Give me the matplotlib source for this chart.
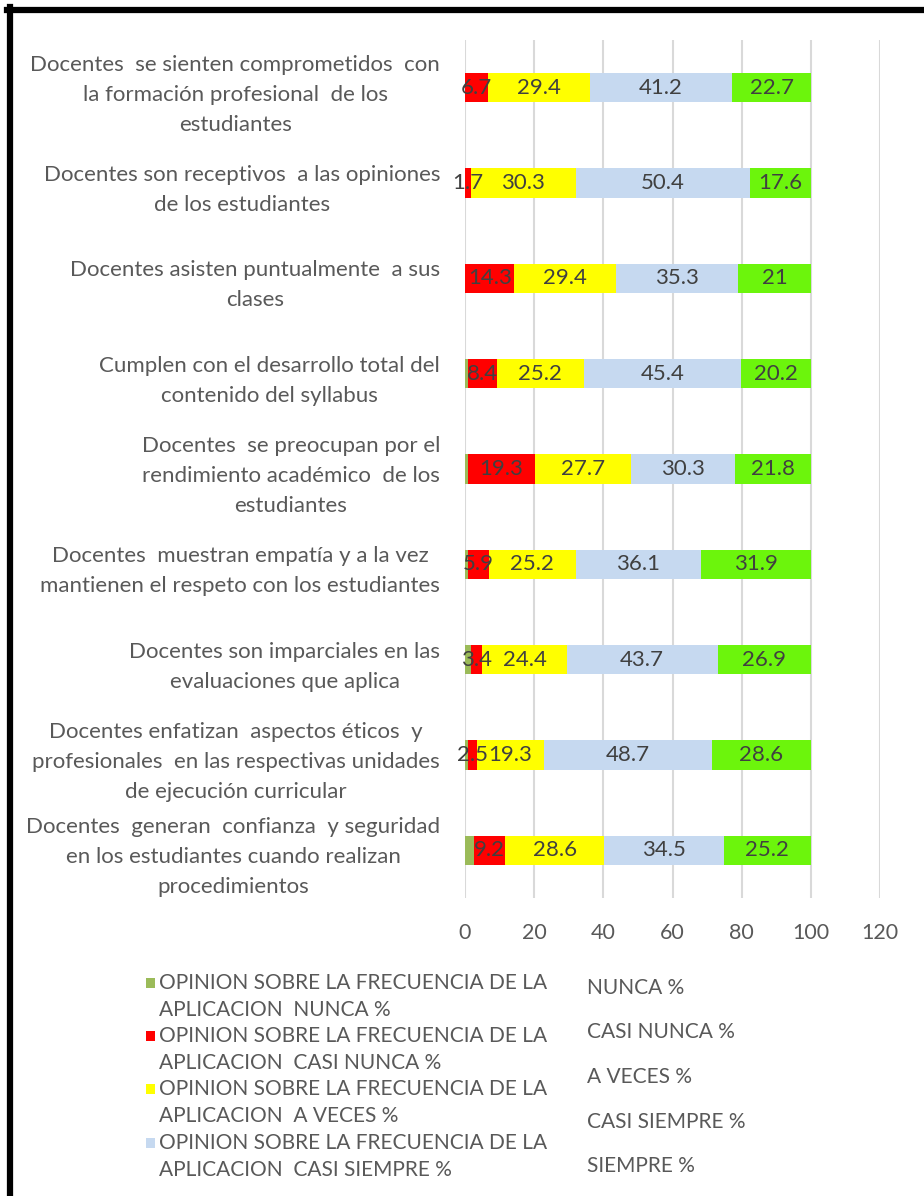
import matplotlib
matplotlib.use("Agg")
import matplotlib.pyplot as plt
from matplotlib.lines import Line2D
from matplotlib.patches import Rectangle
import numpy as np

plt.rcParams['font.family'] = ['Lato', 'DejaVu Sans']

categories = [
    "Docentes  se sienten comprometidos  con\nla formación profesional  de los\nestudiantes",
    "Docentes son receptivos  a las opiniones\nde los estudiantes",
    "Docentes asisten puntualmente  a sus\nclases",
    "Cumplen con el desarrollo total del\ncontenido del syllabus",
    "Docentes  se preocupan por el\nrendimiento académico  de los\nestudiantes",
    "Docentes  muestran empatía y a la vez\nmantienen el respeto con los estudiantes",
    "Docentes son imparciales en las\nevaluaciones que aplica",
    "Docentes enfatizan  aspectos éticos  y\nprofesionales  en las respectivas unidades\nde ejecución curricular",
    "Docentes  generan  confianza  y seguridad\nen los estudiantes cuando realizan\nprocedimientos",
]

nunca        = [0,    0,    0,    0.8,  0.9,  0.9,  1.6,  0.9,  2.5]
casi_nunca   = [6.7,  1.7,  14.3, 8.4,  19.3, 5.9,  3.4,  2.5,  9.2]
a_veces      = [29.4, 30.3, 29.4, 25.2, 27.7, 25.2, 24.4, 19.3, 28.6]
casi_siempre = [41.2, 50.4, 35.3, 45.4, 30.3, 36.1, 43.7, 48.7, 34.5]
siempre      = [22.7, 17.6, 21,   20.2, 21.8, 31.9, 26.9, 28.6, 25.2]

series_names = [
    "OPINION SOBRE LA FRECUENCIA DE LA\nAPLICACION  NUNCA %",
    "OPINION SOBRE LA FRECUENCIA DE LA\nAPLICACION  CASI NUNCA %",
    "OPINION SOBRE LA FRECUENCIA DE LA\nAPLICACION  A VECES %",
    "OPINION SOBRE LA FRECUENCIA DE LA\nAPLICACION  CASI SIEMPRE %",
    "OPINION SOBRE LA FRECUENCIA DE LA\nAPLICACION  SIEMPRE %",
]
side_labels = ["NUNCA %", "CASI NUNCA %", "A VECES %", "CASI SIEMPRE %", "SIEMPRE %"]
colors = ["#9BBB59", "#FF0000", "#FFFF00", "#C6D9F0", "#6CF50C"]

W, H = 924, 1196
fig = plt.figure(figsize=(W/100, H/100), dpi=100)
ax = fig.add_axes([465/W, 1 - 898/H, (880-465)/W, (898-40)/H])

y = np.arange(len(categories))
left = np.zeros(len(categories))
containers = []
for vals, col, name in zip([nunca, casi_nunca, a_veces, casi_siempre, siempre], colors, series_names):
    c = ax.barh(y, vals, left=left, height=0.31, color=col, label=name, zorder=2)
    containers.append(c)
    left += np.array(vals)

for c, vals in zip(containers[1:], [casi_nunca, a_veces, casi_siempre, siempre]):
    ax.bar_label(c, labels=[("%g" % v) if v > 0 else "" for v in vals],
                 label_type='center', fontsize=16, color='#404040', zorder=3)

ax.set_xlim(0, 120)
ax.set_ylim(len(categories) - 0.5, -0.5)
ax.set_xticks(range(0, 121, 20))
ax.set_yticks(y)
ax.set_yticklabels(categories, fontsize=16, color='#595959', multialignment='center', linespacing=1.62)
ax.tick_params(axis='y', length=0, pad=18)
ax.tick_params(axis='x', length=0, pad=18, labelsize=15.5, labelcolor='#595959')
ax.grid(axis='x', color='#D9D9D9', linewidth=1.5, zorder=0)
for s in ax.spines.values():
    s.set_visible(False)

# legend (first four entries visible), laid out as in the reference
entry_y = [983, 1036, 1089, 1143]
for i in range(4):
    yy = entry_y[i]
    fig.add_artist(Rectangle((146/W, 1 - (yy + 5)/H), 9/W, 10/H, facecolor=colors[i],
                             edgecolor='none', transform=fig.transFigure))
    l1, l2 = series_names[i].split("\n")
    fig.text(159/W, 1 - yy/H, l1, fontsize=15, color='#595959', va='center', ha='left')
    fig.text(159/W, 1 - (yy + 27)/H, l2, fontsize=15, color='#595959', va='center', ha='left')

for i, s in enumerate(side_labels):
    fig.text(587/W, 1 - (988 + i*44.5)/H, s, fontsize=15, color='#595959', va='center', ha='left')

# outer black frame (top and left)
fig.add_artist(Line2D([7/W, 1], [1 - 10/H, 1 - 10/H], color='black', linewidth=4.5, transform=fig.transFigure))
fig.add_artist(Line2D([10/W, 10/W], [1 - 7/H, 0], color='black', linewidth=4.5, transform=fig.transFigure))

fig.savefig("out.png", dpi=100)
